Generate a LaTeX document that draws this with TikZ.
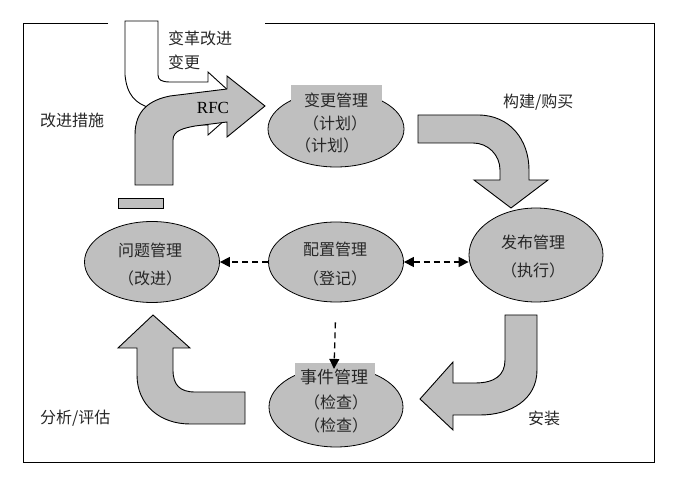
\documentclass[tikz,border=0pt]{standalone}
\usepackage{fontspec}
\setmainfont{Liberation Serif}
\newfontfamily\cjk{Noto Sans CJK SC}
\usetikzlibrary{shapes.geometric,arrows.meta}
\begin{document}
\begin{tikzpicture}[x=1pt,y=-1pt,
  ell/.style={draw, fill=gray!50, ellipse, line width=0.8pt, inner sep=0pt},
  txt/.style={font=\cjk\fontsize{16}{18}\selectfont, text=black!85, inner sep=0pt},
  blk/.style={draw, fill=gray!50, line width=0.9pt, line join=miter},
  darr/.style={line width=1.3pt, dash pattern=on 6pt off 4pt, -{Triangle[length=10pt,width=10pt]}},
  lblbg/.style={fill=gray!50, draw=none}
]
\useasboundingbox (0,0) rectangle (673,478);
% frame
\draw[line width=0.8pt] (108,23) -- (23,23) -- (23,462) -- (654,462) -- (654,23) -- (265,23);

% white arrow (change/improve)
\draw[fill=white, line width=0.9pt] (125,21) -- (158,21) -- (158,75) .. controls (158,80) and (162,82) .. (170,82) -- (208,82) -- (208,72) -- (243,104) -- (208,135) -- (208,125) -- (175,125) -- (150,108) .. controls (135,103) and (127,95) .. (125,75) -- cycle;
% RFC arrow
\draw[blk] (135,185) -- (135,135) .. controls (135,110) and (150,100) .. (170,96) -- (227,89) -- (227,76) -- (265,106) -- (227,137) -- (227,122) -- (195,126) .. controls (185,128) and (173,130) .. (173,140) -- (173,185) -- cycle;
\node[font=\fontsize{17}{19}\selectfont, inner sep=0pt] (rfc) at (213,108) {RFC};
% small gray rectangle
\draw[blk, line width=0.8pt] (118,198) rectangle (163,208);

% top-right arrow
\draw[blk] (418,115) -- (478,115) .. controls (510,115) and (529,140) .. (529,170) -- (529,180) -- (548,180) -- (511,208) -- (474,180) -- (500,180) -- (500,170) .. controls (500,155) and (488,143) .. (473,143) -- (418,143) -- cycle;
% bottom-right arrow
\draw[blk] (505,315) -- (537,315) -- (537,370) .. controls (537,400) and (510,415) .. (480,415) -- (453,415) -- (453,430) -- (420,399) -- (453,362) -- (453,383) -- (475,383) .. controls (495,383) and (505,375) .. (505,360) -- cycle;
% bottom-left arrow
\draw[blk] (245,392) -- (195,392) .. controls (180,392) and (173,385) .. (173,370) -- (173,348) -- (190,348) -- (153,315) -- (118,348) -- (137,348) -- (137,375) .. controls (137,405) and (160,424) .. (190,424) -- (245,424) -- cycle;

% ellipses
\node[ell, minimum width=136pt, minimum height=76pt] (bg) at (336,129) {};
\node[ell, minimum width=134pt, minimum height=94pt] (fb) at (536,255) {};
\node[ell, minimum width=135pt, minimum height=80pt] (pz) at (336,262) {};
\node[ell, minimum width=135pt, minimum height=81pt] (wt) at (152,262) {};
\node[ell, minimum width=134pt, minimum height=80pt] (sj) at (336,407) {};

% label backgrounds
\fill[lblbg] (291,85) rectangle (382,108);
\fill[lblbg] (295,363) rectangle (375,386);

% texts in ellipses
\node[txt] (bg1) at (336,100) {变更管理};
\node[txt] (bg2) at (335,123) {（计划）};
\node[txt] (bg3) at (327,145) {（计划）};
\node[txt] (fb1) at (533,242) {发布管理};
\node[txt] (fb2) at (533,270) {（执行）};
\node[txt] (pz1) at (335,249) {配置管理};
\node[txt] (pz2) at (335,278) {（登记）};
\node[txt] (wt1) at (150,250) {问题管理};
\node[txt] (wt2) at (150,278) {（改进）};
\node[txt, font=\cjk\fontsize{17}{19}\selectfont] (sj1) at (334,377) {事件管理};
\node[txt] (sj2) at (336,402) {（检查）};
\node[txt] (sj3) at (336,425) {（检查）};

% free labels
\node[txt, anchor=west] (l1) at (168,38) {变革改进};
\node[txt, anchor=west] (l2) at (168,62) {变更};
\node[txt, anchor=west] (l3) at (40,120) {改进措施};
\node[txt, anchor=west] (l4) at (503,102) {构建/购买};
\node[txt, anchor=west] (l5) at (40,418) {分析/评估};
\node[txt, anchor=west] (l6) at (528,418) {安装};

% dashed connectors
\draw[darr] (pz.west) -- (wt.east);
\draw[darr, {Triangle[length=10pt,width=10pt]}-{Triangle[length=10pt,width=10pt]}] (pz.east) -- (fb.west |- pz.east);
\draw[darr, shorten <=20pt] (pz.south) -- (sj1.north);
\end{tikzpicture}
\end{document}
